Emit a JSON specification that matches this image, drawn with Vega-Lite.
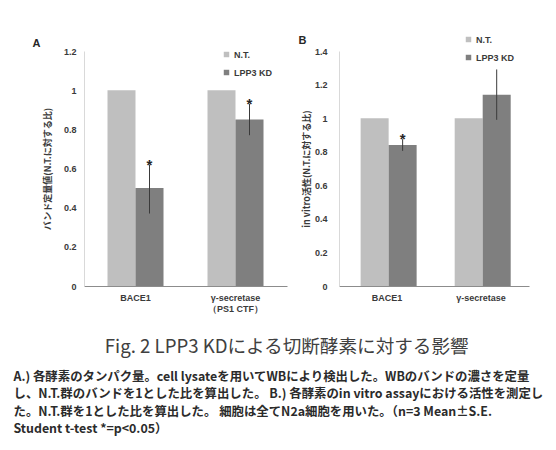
{
  "$schema": "https://vega.github.io/schema/vega-lite/v6.json",
  "padding": {"left": 13, "top": 35, "right": 5, "bottom": 5},
  "background": "white",
  "datasets": {
    "a": [
      {"category": "BACE1", "group": "N.T.", "value": 1},
      {"category": "BACE1", "group": "LPP3 KD", "value": 0.5, "lo": 0.37, "hi": 0.62, "sig": true},
      {"category": "γ-secretase (PS1 CTF)", "group": "N.T.", "value": 1},
      {"category": "γ-secretase (PS1 CTF)", "group": "LPP3 KD", "value": 0.85, "lo": 0.77, "hi": 0.93, "sig": true}
    ],
    "b": [
      {"category": "BACE1", "group": "N.T.", "value": 1},
      {"category": "BACE1", "group": "LPP3 KD", "value": 0.84, "lo": 0.805, "hi": 0.875, "sig": true},
      {"category": "γ-secretase", "group": "N.T.", "value": 1},
      {"category": "γ-secretase", "group": "LPP3 KD", "value": 1.14, "lo": 0.99, "hi": 1.29, "sig": false}
    ]
  },
  "config": {
    "view": {"stroke": null},
    "font": "Liberation Sans",
    "axis": {
      "labelFont": "Liberation Sans",
      "labelFontWeight": "bold",
      "labelFontSize": 9,
      "labelColor": "#3a3a3a",
      "labelOverlap": false,
      "ticks": false,
      "grid": false,
      "titleFont": "Noto Sans CJK JP",
      "titleFontSize": 9,
      "titleFontWeight": "bold",
      "titleColor": "#3a3a3a"
    },
    "axisY": {"domainColor": "#d9d9d9", "domainWidth": 1},
    "axisX": {"domainColor": "#8c8c8c", "domainWidth": 1, "labelAngle": 0, "labelPadding": 7, "title": null},
    "legend": {
      "orient": "none",
      "title": null,
      "symbolType": "square",
      "symbolSize": 30,
      "symbolStrokeWidth": 0,
      "labelFont": "Liberation Sans",
      "labelFontWeight": "bold",
      "labelFontSize": 9,
      "labelColor": "#3a3a3a",
      "rowPadding": 8,
      "labelOffset": 3
    },
    "title": {"font": "Liberation Sans", "fontWeight": "bold", "color": "#262626"}
  },
  "title": {
    "text": [
      "A.) 各酵素のタンパク量。cell lysateを用いてWBにより検出した。WBのバンドの濃さを定量",
      "し、N.T.群のバンドを1とした比を算出した。 B.) 各酵素のin vitro assayにおける活性を測定し",
      "た。N.T.群を1とした比を算出した。 細胞は全てN2a細胞を用いた。（n=3  Mean±S.E.",
      "Student  t-test *=p<0.05）"
    ],
    "orient": "bottom",
    "anchor": "start",
    "dx": -19,
    "offset": 14,
    "font": "Noto Sans CJK JP",
    "fontSize": 12.4,
    "fontWeight": "bold",
    "color": "#2b2b2b",
    "lineHeight": 17.6
  },
  "vconcat": [
    {
      "title": {
        "text": "Fig. 2 LPP3 KDによる切断酵素に対する影響",
        "orient": "bottom",
        "anchor": "middle",
        "offset": 25,
        "dx": 6,
        "font": "Noto Sans CJK JP",
        "fontSize": 18.6,
        "fontWeight": "normal",
        "color": "#404040"
      },
      "spacing": 11,
      "resolve": {"scale": {"color": "independent"}, "legend": {"color": "independent"}},
      "hconcat": [
        {
          "title": {"text": "A", "anchor": "start", "frame": "bounds", "fontSize": 11, "offset": -2, "dx": -11},
          "width": 203,
          "height": 235,
          "data": {"name": "a"},
          "encoding": {
            "x": {
              "field": "category",
              "type": "nominal",
              "sort": null,
              "scale": {"paddingInner": 0.44, "paddingOuter": 0.235},
              "axis": {"labelExpr": "datum.label == 'γ-secretase (PS1 CTF)' ? ['γ-secretase', '（PS1 CTF）'] : datum.label"}
            },
            "xOffset": {"field": "group", "type": "nominal", "scale": {"domain": ["N.T.", "LPP3 KD"]}}
          },
          "layer": [
            {
              "mark": {"type": "bar"},
              "encoding": {
                "y": {
                  "field": "value",
                  "type": "quantitative",
                  "title": "バンド定量値(N.T.に対する比)",
                  "scale": {"domain": [0, 1.2]},
                  "axis": {"values": [0, 0.2, 0.4, 0.6, 0.8, 1, 1.2], "format": "~g", "labelPadding": 8, "titlePadding": 11}
                },
                "color": {
                  "field": "group",
                  "type": "nominal",
                  "scale": {"domain": ["N.T.", "LPP3 KD"], "range": ["#bfbfbf", "#7f7f7f"]},
                  "legend": {"legendX": 138, "legendY": -1}
                }
              }
            },
            {
              "transform": [{"filter": "isValid(datum.hi)"}],
              "mark": {"type": "rule", "color": "#3a3a3a", "strokeWidth": 1},
              "encoding": {
                "y": {"field": "lo", "type": "quantitative", "title": "バンド定量値(N.T.に対する比)",
                  "axis": {"values": [0, 0.2, 0.4, 0.6, 0.8, 1, 1.2], "format": "~g", "labelPadding": 8, "titlePadding": 11}},
                "y2": {"field": "hi"}
              }
            },
            {
              "transform": [{"filter": "datum.sig == true"}],
              "mark": {"type": "text", "text": "*", "fontSize": 15, "fontWeight": "bold", "color": "#262626", "baseline": "alphabetic", "dy": 5},
              "encoding": {
                "y": {"field": "hi", "type": "quantitative", "title": "バンド定量値(N.T.に対する比)",
                  "axis": {"values": [0, 0.2, 0.4, 0.6, 0.8, 1, 1.2], "format": "~g", "labelPadding": 8, "titlePadding": 11}}
              }
            }
          ]
        },
        {
          "title": {"text": "B", "anchor": "start", "frame": "bounds", "fontSize": 11, "offset": -11, "dx": -4},
          "width": 190,
          "height": 235,
          "data": {"name": "b"},
          "encoding": {
            "x": {
              "field": "category",
              "type": "nominal",
              "sort": null,
              "scale": {"paddingInner": 0.44, "paddingOuter": 0.23}
            },
            "xOffset": {"field": "group", "type": "nominal", "scale": {"domain": ["N.T.", "LPP3 KD"]}}
          },
          "layer": [
            {
              "mark": {"type": "bar"},
              "encoding": {
                "y": {
                  "field": "value",
                  "type": "quantitative",
                  "title": "in vitro活性(N.T.に対する比)",
                  "scale": {"domain": [0, 1.4]},
                  "axis": {"values": [0, 0.2, 0.4, 0.6, 0.8, 1, 1.2, 1.4], "format": "~g", "labelPadding": 12, "titlePadding": 3}
                },
                "color": {
                  "field": "group",
                  "type": "nominal",
                  "scale": {"domain": ["N.T.", "LPP3 KD"], "range": ["#bfbfbf", "#7f7f7f"]},
                  "legend": {"legendX": 125, "legendY": -16}
                }
              }
            },
            {
              "transform": [{"filter": "isValid(datum.hi)"}],
              "mark": {"type": "rule", "color": "#3a3a3a", "strokeWidth": 1},
              "encoding": {
                "y": {"field": "lo", "type": "quantitative", "title": "in vitro活性(N.T.に対する比)",
                  "axis": {"values": [0, 0.2, 0.4, 0.6, 0.8, 1, 1.2, 1.4], "format": "~g", "labelPadding": 12, "titlePadding": 3}},
                "y2": {"field": "hi"}
              }
            },
            {
              "transform": [{"filter": "datum.sig == true"}],
              "mark": {"type": "text", "text": "*", "fontSize": 15, "fontWeight": "bold", "color": "#262626", "baseline": "alphabetic", "dy": 5},
              "encoding": {
                "y": {"field": "hi", "type": "quantitative", "title": "in vitro活性(N.T.に対する比)",
                  "axis": {"values": [0, 0.2, 0.4, 0.6, 0.8, 1, 1.2, 1.4], "format": "~g", "labelPadding": 12, "titlePadding": 3}}
              }
            }
          ]
        }
      ]
    }
  ]
}
